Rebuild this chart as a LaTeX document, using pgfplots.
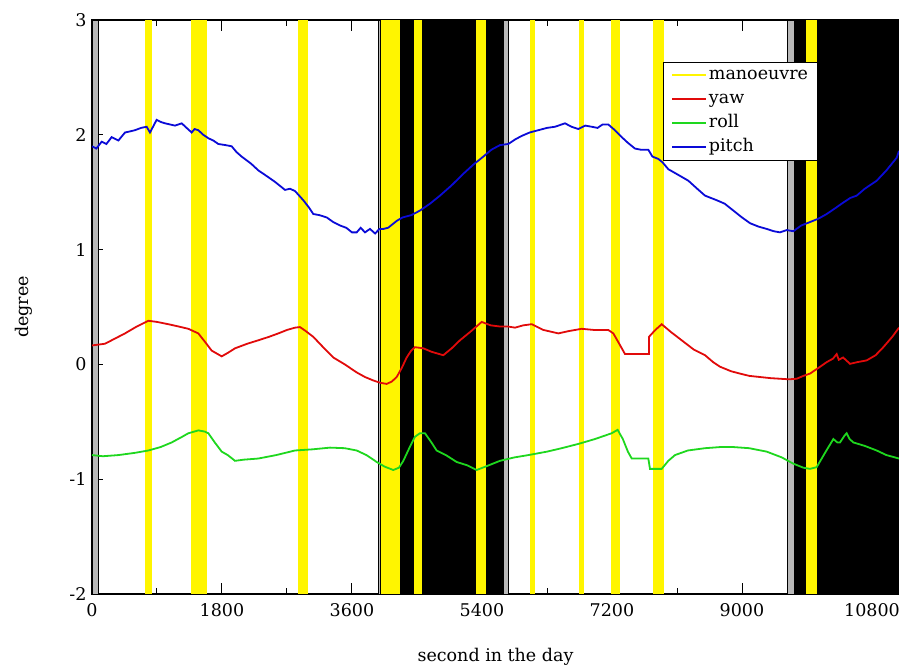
\documentclass[border=0pt]{standalone}
\usepackage{pgfplots}
\pgfplotsset{compat=1.18}
\usepackage{fontspec}
\setmainfont{DejaVu Serif}
\definecolor{cyaw}{RGB}{225,10,10}
\definecolor{croll}{RGB}{30,215,30}
\definecolor{cpitch}{RGB}{10,10,215}
\definecolor{cman}{RGB}{255,245,0}
\begin{document}
\begin{tikzpicture}[x=1pt,y=1pt]
\useasboundingbox (0,0) rectangle (899,668);
\begin{axis}[
  at={(92pt,74pt)}, anchor=south west,
  scale only axis, width=807pt, height=574pt,
  xmin=0, xmax=11174, ymin=-2, ymax=3,
  xtick={0,1800,3600,5400,7200,9000,10800},
  minor xtick={900,2700,4500,6300,8100,9900},
  ytick={-2,-1,0,1,2,3},
  minor ytick={-1.5,-0.5,0.5,1.5,2.5},
  scaled x ticks=false,
  tick align=inside,
  major tick length=11pt, minor tick length=6pt,
  every tick/.style={black, line width=1pt},
  axis line style={line width=1.5pt},
  /pgf/number format/assume math mode=true,
  /pgf/number format/set thousands separator={},
  tick label style={font=\fontsize{17.5}{20}\selectfont},
  xticklabel style={yshift=-6pt},
  yticklabel style={xshift=-2pt},
  xlabel={second in the day},
  ylabel={degree},
  label style={font=\fontsize{17.5}{20}\selectfont},
  xlabel style={at={(axis description cs:0.5,0)}, anchor=center, yshift=-63pt},
  ylabel style={at={(axis description cs:-0.0843,0.5)}, anchor=center},
  legend cell align=left,
  legend style={at={(rel axis cs:0.7076,0.9268)}, anchor=north west,
    draw=black, line width=0.8pt, fill=white,
    font=\fontsize{17.5}{20}\selectfont,
    nodes={inner sep=1.5pt, text height=13pt, text depth=4pt},
    row sep=4pt, inner xsep=8pt, inner ysep=3pt},
]
% umbra (black)
\addplot[forget plot, fill=black, draw=none] coordinates {(3997,-2)(3997,3)(5695,3)(5695,-2)} --cycle;
\addplot[forget plot, fill=black, draw=none] coordinates {(9720,-2)(9720,3)(11174,3)(11174,-2)} --cycle;
% penumbra (grey)
\addplot[forget plot, fill=gray!55, draw=black, line width=0.8pt] coordinates {(0,-2)(0,3)(83,3)(83,-2)} --cycle;
\addplot[forget plot, fill=gray!55, draw=black, line width=0.8pt] coordinates {(3964,-2)(3964,3)(3997,3)(3997,-2)} --cycle;
\addplot[forget plot, fill=gray!55, draw=black, line width=0.8pt] coordinates {(5695,-2)(5695,3)(5764,3)(5764,-2)} --cycle;
\addplot[forget plot, fill=gray!55, draw=black, line width=0.8pt] coordinates {(9627,-2)(9627,3)(9720,3)(9720,-2)} --cycle;
% manoeuvres (yellow)
\addplot[forget plot, fill=cman, draw=none] coordinates {(734,-2)(734,3)(827,3)(827,-2)} --cycle;
\addplot[forget plot, fill=cman, draw=none] coordinates {(1371,-2)(1371,3)(1588,3)(1588,-2)} --cycle;
\addplot[forget plot, fill=cman, draw=none] coordinates {(2856,-2)(2856,3)(2995,3)(2995,-2)} --cycle;
\addplot[forget plot, fill=cman, draw=none] coordinates {(3997,-2)(3997,3)(4265,3)(4265,-2)} --cycle;
\addplot[forget plot, fill=cman, draw=none] coordinates {(4458,-2)(4458,3)(4573,3)(4573,-2)} --cycle;
\addplot[forget plot, fill=cman, draw=none] coordinates {(5313,-2)(5313,3)(5451,3)(5451,-2)} --cycle;
\addplot[forget plot, fill=cman, draw=none] coordinates {(6065,-2)(6065,3)(6134,3)(6134,-2)} --cycle;
\addplot[forget plot, fill=cman, draw=none] coordinates {(6743,-2)(6743,3)(6817,3)(6817,-2)} --cycle;
\addplot[forget plot, fill=cman, draw=none] coordinates {(7188,-2)(7188,3)(7317,3)(7317,-2)} --cycle;
\addplot[forget plot, fill=cman, draw=none] coordinates {(7772,-2)(7772,3)(7924,3)(7924,-2)} --cycle;
\addplot[forget plot, fill=cman, draw=none] coordinates {(9886,-2)(9886,3)(10043,3)(10043,-2)} --cycle;

\addlegendimage{legend image code/.code={\draw[draw=cman, line width=2pt] (0pt,0pt) -- (34pt,0pt);}}
\addlegendentry{manoeuvre}
\addlegendimage{legend image code/.code={\draw[draw=cyaw, line width=2pt] (0pt,0pt) -- (34pt,0pt);}}
\addlegendentry{yaw}
\addlegendimage{legend image code/.code={\draw[draw=croll, line width=2pt] (0pt,0pt) -- (34pt,0pt);}}
\addlegendentry{roll}
\addlegendimage{legend image code/.code={\draw[draw=cpitch, line width=2pt] (0pt,0pt) -- (34pt,0pt);}}
\addlegendentry{pitch}

% yaw
\addplot[forget plot, draw=cyaw, line width=1.8pt] coordinates {
(0,0.165)(180,0.18)(457,0.27)(620,0.33)(780,0.38)(900,0.37)(1057,0.35)(1200,0.33)
(1334,0.31)(1472,0.27)(1560,0.20)(1657,0.12)(1796,0.07)(1880,0.10)(1980,0.14)(2150,0.18)
(2303,0.21)(2450,0.24)(2580,0.27)(2700,0.30)(2811,0.32)(2880,0.325)(2960,0.29)(3064,0.24)
(3200,0.15)(3341,0.06)(3500,0.00)(3665,-0.07)(3780,-0.11)(3895,-0.14)(3990,-0.16)(4080,-0.17)
(4150,-0.15)(4219,-0.11)(4290,-0.03)(4357,0.06)(4420,0.12)(4472,0.15)(4588,0.14)(4700,0.11)
(4864,0.08)(4980,0.14)(5095,0.21)(5250,0.29)(5396,0.37)(5520,0.34)(5649,0.33)(5760,0.33)
(5857,0.32)(5970,0.34)(6088,0.35)(6250,0.30)(6457,0.27)(6600,0.29)(6780,0.31)(6950,0.30)
(7149,0.30)(7218,0.27)(7300,0.18)(7380,0.09)(7450,0.09)(7518,0.09)(7620,0.09)(7712,0.09)
(7712,0.24)(7800,0.30)(7888,0.35)(8020,0.28)(8165,0.21)(8330,0.13)(8488,0.08)(8600,0.02)
(8695,-0.02)(8850,-0.06)(8972,-0.08)(9100,-0.10)(9249,-0.11)(9400,-0.12)(9526,-0.125)(9650,-0.13)
(9757,-0.125)(9850,-0.10)(9942,-0.08)(10060,-0.03)(10173,0.02)(10260,0.05)(10311,0.09)(10340,0.04)
(10400,0.06)(10496,0.005)(10600,0.02)(10727,0.035)(10850,0.08)(10957,0.15)(11080,0.24)(11174,0.32)
};

% roll
\addplot[forget plot, draw=croll, line width=1.8pt] coordinates {
(0,-0.79)(150,-0.80)(365,-0.79)(600,-0.77)(780,-0.75)(950,-0.72)(1103,-0.68)(1250,-0.63)
(1334,-0.60)(1472,-0.575)(1560,-0.585)(1611,-0.60)(1700,-0.68)(1796,-0.76)(1880,-0.79)(1980,-0.84)
(2100,-0.83)(2303,-0.82)(2550,-0.79)(2811,-0.75)(3050,-0.74)(3296,-0.725)(3500,-0.73)(3665,-0.75)
(3800,-0.79)(3942,-0.85)(4050,-0.89)(4172,-0.92)(4250,-0.90)(4311,-0.84)(4400,-0.72)(4472,-0.63)
(4540,-0.60)(4611,-0.60)(4700,-0.68)(4772,-0.75)(4900,-0.79)(5049,-0.85)(5200,-0.88)(5326,-0.92)
(5450,-0.89)(5649,-0.84)(5850,-0.81)(6041,-0.79)(6300,-0.76)(6503,-0.73)(6750,-0.69)(6965,-0.65)
(7195,-0.60)(7278,-0.57)(7350,-0.65)(7420,-0.76)(7473,-0.82)(7703,-0.82)(7726,-0.91)(7888,-0.91)
(7980,-0.84)(8072,-0.79)(8250,-0.75)(8488,-0.73)(8700,-0.72)(8880,-0.72)(9100,-0.73)(9342,-0.76)
(9550,-0.81)(9711,-0.865)(9850,-0.90)(9942,-0.91)(10034,-0.895)(10150,-0.77)(10265,-0.65)(10320,-0.68)
(10357,-0.68)(10420,-0.62)(10449,-0.60)(10490,-0.65)(10542,-0.68)(10700,-0.71)(10865,-0.75)(11000,-0.79)
(11174,-0.82)
};

% pitch
\addplot[forget plot, draw=cpitch, line width=1.8pt] coordinates {
(0,1.90)(60,1.88)(134,1.94)(200,1.92)(272,1.98)(365,1.95)(457,2.02)(530,2.03)(595,2.04)
(680,2.06)(757,2.07)(803,2.02)(895,2.13)(960,2.11)(1011,2.10)(1080,2.09)(1149,2.08)(1242,2.10)
(1310,2.06)(1380,2.02)(1420,2.05)(1472,2.04)(1540,2.00)(1611,1.97)(1680,1.95)(1749,1.92)
(1850,1.91)(1934,1.90)(2000,1.85)(2072,1.81)(2200,1.75)(2303,1.69)(2420,1.64)(2534,1.59)
(2672,1.52)(2742,1.53)(2811,1.51)(2926,1.43)(3000,1.37)(3064,1.31)(3150,1.30)(3250,1.28)
(3340,1.24)(3434,1.21)(3520,1.19)(3600,1.15)(3665,1.15)(3720,1.19)(3780,1.15)(3849,1.18)
(3920,1.14)(3980,1.18)(4034,1.18)(4100,1.19)(4219,1.25)(4300,1.28)(4420,1.30)(4542,1.34)
(4680,1.40)(4818,1.47)(4980,1.56)(5141,1.66)(5280,1.74)(5418,1.81)(5530,1.87)(5649,1.91)
(5764,1.92)(5860,1.96)(5949,1.99)(6060,2.02)(6180,2.04)(6300,2.06)(6411,2.07)(6549,2.10)
(6640,2.07)(6734,2.05)(6830,2.08)(6919,2.07)(7000,2.06)(7070,2.09)(7149,2.09)(7240,2.04)
(7334,1.98)(7420,1.93)(7518,1.88)(7600,1.87)(7703,1.87)(7760,1.81)(7841,1.79)(7900,1.76)
(7980,1.70)(8120,1.65)(8257,1.60)(8380,1.53)(8488,1.47)(8650,1.43)(8760,1.40)(8880,1.34)
(9000,1.28)(9111,1.23)(9230,1.20)(9342,1.18)(9440,1.16)(9526,1.15)(9620,1.17)(9711,1.16)
(9820,1.21)(9942,1.24)(10060,1.27)(10173,1.31)(10290,1.36)(10403,1.41)(10500,1.45)(10588,1.47)
(10700,1.53)(10865,1.60)(11000,1.69)(11142,1.80)(11174,1.86)
};
\end{axis}
\end{tikzpicture}
\end{document}
